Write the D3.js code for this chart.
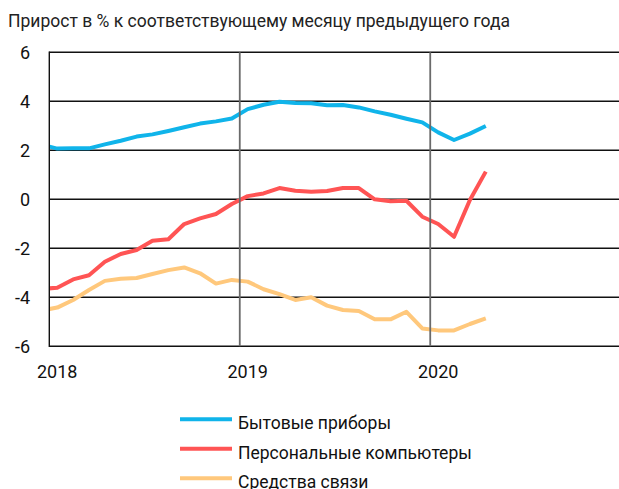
<!DOCTYPE html>
<html><head><meta charset="utf-8">
<script src="https://cdn.jsdelivr.net/npm/d3@7"></script>
<style>
html,body{margin:0;padding:0;background:#fff;}
svg{display:block;font-family:Roboto, "Noto Sans", sans-serif;}
</style></head>
<body>
<svg id="chart" width="619" height="489"></svg>
<script>
// Month index: 0 = Jan 2018; series start Dec 2017 (index -1) and end Apr 2020 (index 27)
const startIndex = -1;
const appliances = [2.23,2.07,2.08,2.08,2.24,2.39,2.56,2.65,2.79,2.94,3.09,3.18,3.30,3.68,3.86,3.98,3.93,3.92,3.84,3.85,3.75,3.59,3.45,3.29,3.14,2.73,2.42,2.68,2.99];
const computers  = [-3.66,-3.61,-3.27,-3.10,-2.55,-2.23,-2.07,-1.69,-1.63,-1.01,-0.78,-0.60,-0.19,0.13,0.24,0.46,0.35,0.31,0.34,0.46,0.46,0.0,-0.08,-0.06,-0.71,-1.01,-1.53,-0.03,1.13];
const telecom    = [-4.54,-4.42,-4.11,-3.70,-3.33,-3.24,-3.21,-3.05,-2.89,-2.78,-3.02,-3.44,-3.29,-3.36,-3.67,-3.87,-4.11,-4.00,-4.34,-4.52,-4.56,-4.90,-4.90,-4.59,-5.27,-5.35,-5.35,-5.09,-4.86];
const seriesNames = ["Бытовые приборы","Персональные компьютеры","Средства связи"];
const seriesColors = ["#10b4ea","#ff5454","#ffc87c"];
const yTicks = [6,4,2,0,-2,-4,-6];
const yearLabels = ["2018","2019","2020"];
const yearIndex = [0,12,24];
const title = "Прирост в % к соответствующему месяцу предыдущего года";

const svg = d3.select("#chart");
const x = d3.scaleLinear().domain([-0.5, 35.5]).range([49.3, 620.7]);
const y = d3.scaleLinear().domain([-6, 6]).range([346.3, 52.3]);

// title
svg.append("text").attr("x", 8).attr("y", 27)
  .attr("font-size", 18).attr("fill", "#222").text(title)
  .attr("textLength", 502).attr("lengthAdjust", "spacingAndGlyphs");

// horizontal grid
svg.append("g").selectAll("line").data(yTicks).join("line")
  .attr("x1", x(-0.5)).attr("x2", 619)
  .attr("y1", d => y(d)).attr("y2", d => y(d))
  .attr("stroke", "#111").attr("stroke-width", 1.4);

// y labels
svg.append("g").selectAll("text").data(yTicks).join("text")
  .attr("x", 30).attr("y", d => y(d)).attr("dy", "0.36em")
  .attr("text-anchor", "end").attr("font-size", 18).attr("fill", "#111")
  .text(d => d);

// x labels
svg.append("g").selectAll("text").data(yearLabels).join("text")
  .attr("x", (d, i) => x(yearIndex[i])).attr("y", 378)
  .attr("text-anchor", "middle").attr("font-size", 18).attr("fill", "#111")
  .text(d => d);

// lines
svg.append("clipPath").attr("id", "clip").append("rect")
  .attr("x", x(-0.5)).attr("y", 0).attr("width", 620).attr("height", 489);
const line = d3.line().x((d, i) => x(startIndex + i)).y(d => y(d));
const allSeries = [appliances, computers, telecom];
svg.append("g").attr("clip-path", "url(#clip)").selectAll("path").data(allSeries).join("path")
  .attr("d", d => line(d)).attr("fill", "none")
  .attr("stroke", (d, i) => seriesColors[i]).attr("stroke-width", 4)
  .attr("stroke-linejoin", "round");

// vertical year boundaries
svg.append("g").selectAll("line").data([11.5, 23.5]).join("line")
  .attr("x1", d => x(d)).attr("x2", d => x(d))
  .attr("y1", y(6)).attr("y2", y(-6))
  .attr("stroke", "#6a6a6a").attr("stroke-width", 1.8);
svg.append("line").attr("x1", x(-0.5)).attr("x2", x(-0.5))
  .attr("y1", y(6) - 0.7).attr("y2", y(-6) + 0.7)
  .attr("stroke", "#111").attr("stroke-width", 1.4);

// legend
const lg = svg.append("g").selectAll("g").data(seriesNames).join("g")
  .attr("transform", (d, i) => `translate(0, ${419.3 + i * 29.5})`);
lg.append("line").attr("x1", 180).attr("x2", 232).attr("y1", 0).attr("y2", 0)
  .attr("stroke", (d, i) => seriesColors[i]).attr("stroke-width", 4);
lg.append("text").attr("x", 238).attr("y", 10).attr("font-size", 17.5).attr("fill", "#111")
  .text(d => d);
</script>
</body></html>
